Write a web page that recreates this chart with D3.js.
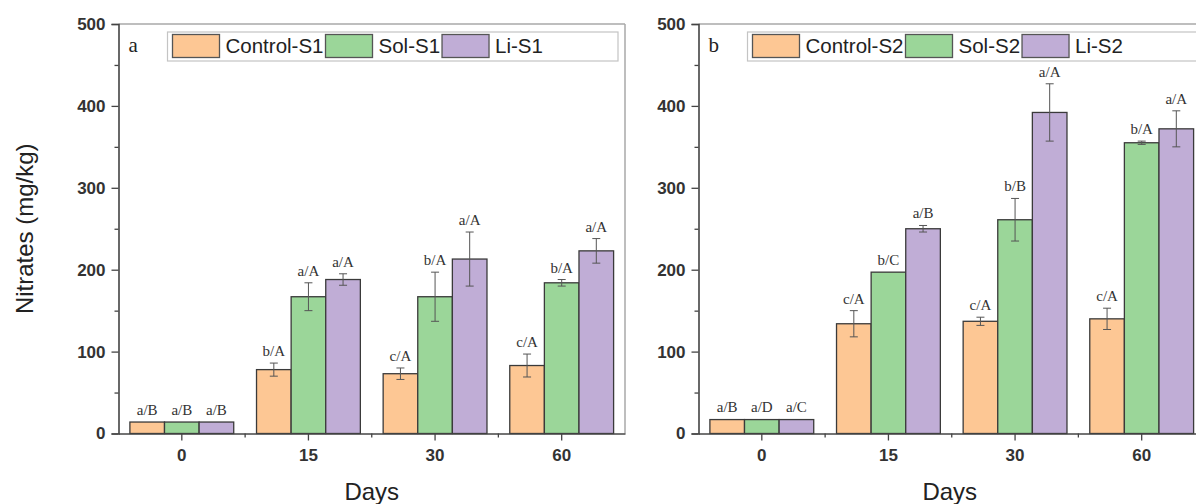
<!DOCTYPE html>
<html>
<head>
<meta charset="utf-8">
<script src="https://cdn.jsdelivr.net/npm/d3@7"></script>
<style>
  body { margin: 0; background: #fff; }
  svg { display: block; }
</style>
</head>
<body>
<div id="chart"></div>
<script>
// days on the x axis
const days = ["0", "15", "30", "60"];
const yTicks = [0, 100, 200, 300, 400, 500];

// panel a (S1)
const namesS1 = ["Control-S1", "Sol-S1", "Li-S1"];
const controlS1 = [14, 78, 73, 83];
const controlS1Err = [0.5, 8, 7, 14];
const solS1 = [14, 167, 167, 184];
const solS1Err = [0.5, 17, 30, 4];
const liS1 = [14, 188, 213, 223];
const liS1Err = [0.5, 7, 33, 15];
const controlS1Labels = ["a/B", "b/A", "c/A", "c/A"];
const solS1Labels = ["a/B", "a/A", "b/A", "b/A"];
const liS1Labels = ["a/B", "a/A", "a/A", "a/A"];

// panel b (S2)
const namesS2 = ["Control-S2", "Sol-S2", "Li-S2"];
const controlS2 = [17, 134, 137, 140];
const controlS2Err = [0.5, 16, 5, 13];
const solS2 = [17, 197, 261, 355];
const solS2Err = [0.5, 0, 26, 2];
const liS2 = [17, 250, 392, 372];
const liS2Err = [0.5, 4, 35, 22];
const controlS2Labels = ["a/B", "c/A", "c/A", "c/A"];
const solS2Labels = ["a/D", "b/C", "b/B", "b/A"];
const liS2Labels = ["a/C", "a/B", "a/A", "a/A"];

const colors = ["#fdc794", "#9bd699", "#c0add6"];

const W = 1196, H = 504;
const plotTop = 24, plotBottom = 433.5;

const svg = d3.select("#chart").append("svg")
  .attr("width", W)
  .attr("height", H);

// y axis title (shared, left)
svg.append("text")
  .attr("transform", `translate(33,${(plotTop + plotBottom) / 2}) rotate(-90)`)
  .attr("text-anchor", "middle")
  .attr("font-family", "Liberation Sans, Arial, sans-serif")
  .attr("font-size", 24)
  .attr("fill", "#222")
  .text("Nitrates (mg/kg)");

function drawPanel(left, right, letter, names, values, errs, labels, legendX, legendRight) {
  const g = svg.append("g");

  const y = d3.scaleLinear().domain([0, 500]).range([plotBottom, plotTop]);

  const x0 = d3.scaleBand()
    .domain(days)
    .range([left, right])
    .paddingInner(0.18)
    .paddingOuter(0.09);

  const x1 = d3.scaleBand()
    .domain(names)
    .range([0, x0.bandwidth()]);

  // frame top / right
  g.append("line")
    .attr("x1", left).attr("x2", Math.min(right, W + 5))
    .attr("y1", plotTop).attr("y2", plotTop)
    .attr("stroke", "#a8a8a8").attr("stroke-width", 1.5);
  g.append("line")
    .attr("x1", right).attr("x2", right)
    .attr("y1", plotTop).attr("y2", plotBottom)
    .attr("stroke", "#a8a8a8").attr("stroke-width", 1.5);

  // bars
  const rows = [];
  days.forEach((d, i) => {
    names.forEach((n, k) => {
      rows.push({ day: d, name: n, k: k, v: values[k][i], e: errs[k][i], lab: labels[k][i] });
    });
  });

  g.selectAll(".bar")
    .data(rows)
    .enter()
    .append("rect")
    .attr("x", d => x0(d.day) + x1(d.name))
    .attr("y", d => y(d.v))
    .attr("width", x1.bandwidth())
    .attr("height", d => y(0) - y(d.v))
    .attr("fill", d => colors[d.k])
    .attr("stroke", "#3a3a3a")
    .attr("stroke-width", 1.3);

  // error bars
  const cx = d => x0(d.day) + x1(d.name) + x1.bandwidth() / 2;
  const eb = g.selectAll(".err")
    .data(rows.filter(d => d.e > 0.5))
    .enter()
    .append("g")
    .attr("stroke", "#555")
    .attr("stroke-width", 1);
  eb.append("line")
    .attr("x1", cx).attr("x2", cx)
    .attr("y1", d => y(d.v - d.e)).attr("y2", d => y(d.v + d.e));
  eb.append("line")
    .attr("x1", d => cx(d) - 4).attr("x2", d => cx(d) + 4)
    .attr("y1", d => y(d.v + d.e)).attr("y2", d => y(d.v + d.e));
  eb.append("line")
    .attr("x1", d => cx(d) - 4).attr("x2", d => cx(d) + 4)
    .attr("y1", d => y(d.v - d.e)).attr("y2", d => y(d.v - d.e));

  // letters above bars
  g.selectAll(".lab")
    .data(rows)
    .enter()
    .append("text")
    .attr("x", cx)
    .attr("y", d => y(d.v + d.e) - 7)
    .attr("text-anchor", "middle")
    .attr("font-family", "Liberation Serif, Times New Roman, serif")
    .attr("font-size", 15)
    .attr("fill", "#333")
    .text(d => d.lab);

  // y axis
  const yAxis = g.append("g")
    .attr("transform", `translate(${left},0)`)
    .call(d3.axisLeft(y).tickValues(yTicks).tickSize(7).tickPadding(6));
  g.append("g")
    .attr("transform", `translate(${left},0)`)
    .call(d3.axisLeft(y).tickValues([50, 150, 250, 350, 450]).tickSize(4).tickFormat(""))
    .call(a => a.select(".domain").remove())
    .selectAll("line").attr("stroke", "#444").attr("stroke-width", 1.3);
  yAxis.select(".domain").attr("stroke", "#444").attr("stroke-width", 1.6);
  yAxis.selectAll(".tick line").attr("stroke", "#444").attr("stroke-width", 1.3);
  yAxis.selectAll("text")
    .attr("font-family", "Liberation Sans, Arial, sans-serif")
    .attr("font-size", 17)
    .attr("font-weight", "bold")
    .attr("fill", "#333");

  // x axis
  const xAxis = g.append("g")
    .attr("transform", `translate(0,${plotBottom})`)
    .call(d3.axisBottom(x0).tickSize(7).tickSizeOuter(0).tickPadding(8));
  xAxis.select(".domain").attr("stroke", "#444").attr("stroke-width", 1.6);
  xAxis.selectAll(".tick line").attr("stroke", "#444").attr("stroke-width", 1.3);
  xAxis.selectAll("text")
    .attr("font-family", "Liberation Sans, Arial, sans-serif")
    .attr("font-size", 17)
    .attr("font-weight", "bold")
    .attr("fill", "#333");
  // minor ticks between groups
  const step = x0.step();
  g.selectAll(".minor")
    .data(days.slice(1))
    .enter()
    .append("line")
    .attr("x1", d => x0(d) + x0.bandwidth() / 2 - step / 2)
    .attr("x2", d => x0(d) + x0.bandwidth() / 2 - step / 2)
    .attr("y1", plotBottom).attr("y2", plotBottom + 4)
    .attr("stroke", "#444").attr("stroke-width", 1.3);

  // x title
  g.append("text")
    .attr("x", (left + right) / 2 - (right > W ? 2 : 0))
    .attr("y", 500)
    .attr("text-anchor", "middle")
    .attr("font-family", "Liberation Sans, Arial, sans-serif")
    .attr("font-size", 24)
    .attr("fill", "#222")
    .text("Days");

  // panel letter
  g.append("text")
    .attr("x", left + 10)
    .attr("y", 52)
    .attr("font-family", "Liberation Serif, Times New Roman, serif")
    .attr("font-size", 21)
    .attr("fill", "#222")
    .text(letter);

  // legend
  g.append("rect")
    .attr("x", legendX).attr("y", 32)
    .attr("width", legendRight - legendX).attr("height", 29)
    .attr("fill", "#fff")
    .attr("stroke", "#c4c4c4").attr("stroke-width", 1.2);
  let lx = legendX + 5;
  names.forEach((n, k) => {
    g.append("rect")
      .attr("x", lx).attr("y", 34.5)
      .attr("width", 47).attr("height", 23)
      .attr("fill", colors[k])
      .attr("stroke", "#555").attr("stroke-width", 1.3);
    const t = g.append("text")
      .attr("x", lx + 53).attr("y", 53)
      .attr("font-family", "Liberation Sans, Arial, sans-serif")
      .attr("font-size", 20.5)
      .attr("fill", "#222")
      .text(n);
    lx = lx + 53 + t.node().getComputedTextLength() + 2;
  });
}

drawPanel(118.5, 625, "a", namesS1,
  [controlS1, solS1, liS1], [controlS1Err, solS1Err, liS1Err],
  [controlS1Labels, solS1Labels, liS1Labels], 167.5, 618);

drawPanel(698.5, 1205, "b", namesS2,
  [controlS2, solS2, liS2], [controlS2Err, solS2Err, liS2Err],
  [controlS2Labels, solS2Labels, liS2Labels], 747.5, 1200);
</script>
</body>
</html>
